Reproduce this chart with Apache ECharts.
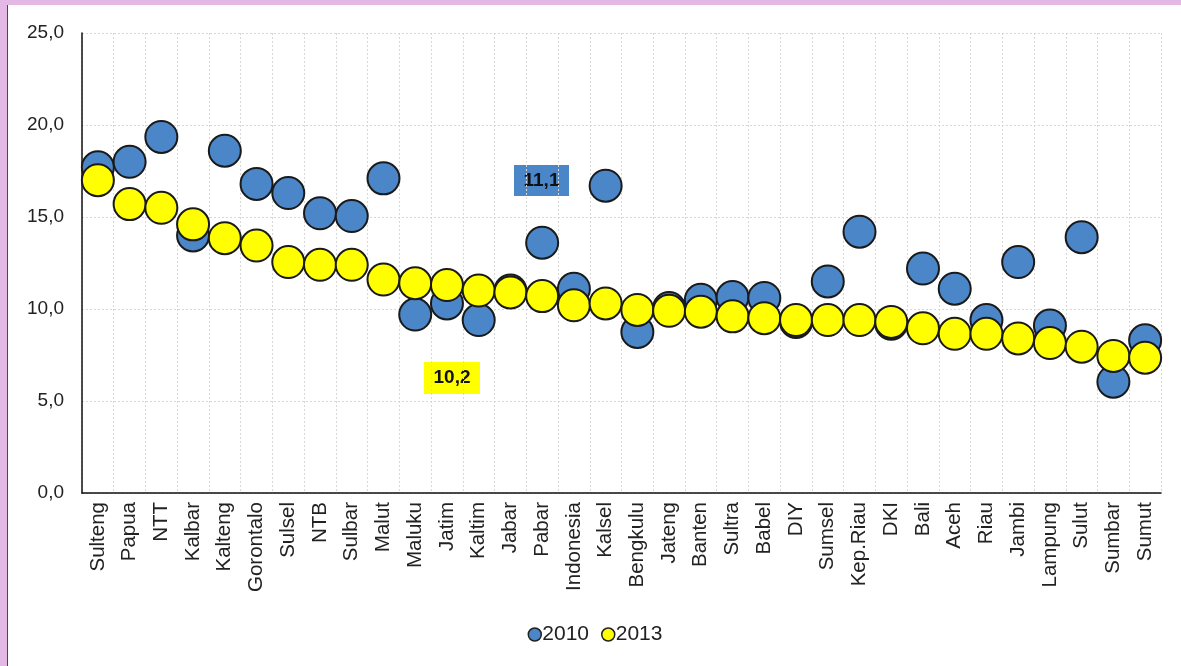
<!DOCTYPE html>
<html>
<head>
<meta charset="utf-8">
<script src="https://cdn.jsdelivr.net/npm/echarts@6/dist/echarts.min.js"></script>
<style>
  html, body { margin: 0; padding: 0; background: #e4b8e4; }
  #chart {
    position: absolute; left: 7px; top: 5px;
    width: 1174px; height: 661px;
    background: #ffffff;
    border-left: 1px solid #5b3d5b;
  }
</style>
</head>
<body>
<div id="chart"></div>
<script>
// Provinces, ordered as in the picture
var provinces = ['Sulteng', 'Papua', 'NTT', 'Kalbar', 'Kalteng', 'Gorontalo', 'Sulsel', 'NTB',
    'Sulbar', 'Malut', 'Maluku', 'Jatim', 'Kaltim', 'Jabar', 'Pabar', 'Indonesia', 'Kalsel',
    'Bengkulu', 'Jateng', 'Banten', 'Sultra', 'Babel', 'DIY', 'Sumsel', 'Kep.Riau', 'DKI',
    'Bali', 'Aceh', 'Riau', 'Jambi', 'Lampung', 'Sulut', 'Sumbar', 'Sumut'];

// Values
var values2010 = [17.7, 18.0, 19.35, 14.0, 18.6, 16.8, 16.3, 15.2,
    15.05, 17.1, 9.7, 10.3, 9.4, 11.0, 13.6, 11.1, 16.7,
    8.75, 10.05, 10.5, 10.65, 10.6, 9.3, 11.5, 14.2, 9.2,
    12.2, 11.1, 9.4, 12.55, 9.1, 13.9, 6.05, 8.3];
var values2013 = [17.0, 15.7, 15.5, 14.6, 13.85, 13.45, 12.55, 12.4,
    12.4, 11.6, 11.4, 11.3, 11.0, 10.9, 10.7, 10.2, 10.3,
    9.95, 9.9, 9.85, 9.6, 9.5, 9.4, 9.4, 9.4, 9.3,
    8.95, 8.65, 8.65, 8.4, 8.15, 7.95, 7.45, 7.35];

var seriesNames = ['2010', '2013'];
var seriesColors = ['#4a86c8', '#ffff00'];
var yTicks = [0, 5, 25];   // min, interval, max
var notes = ['11,1', '10,2'];

var FONT = 'Liberation Sans, Arial, sans-serif';
var chart = echarts.init(document.getElementById('chart'));

function fmt(v) {
    return v.toFixed(1).replace('.', ',');
}

// Small boxed value label, as drawn on the original slide
function noteBox(left, top, w, h, text, fill) {
    return {
        type: 'group', left: left, top: top,
        children: [
            { type: 'rect', shape: { x: 0, y: 0, width: w, height: h }, style: { fill: fill } },
            { type: 'text', x: w / 2, y: h / 2,
              style: { text: text, fill: '#111', fontFamily: FONT, fontSize: 19, fontWeight: 'bold',
                       align: 'center', verticalAlign: 'middle' } }
        ]
    };
}

var option = {
    animation: false,
    textStyle: { fontFamily: FONT },
    grid: { left: 74, right: 21, top: 28, bottom: 173 },
    legend: {
        bottom: 16,
        left: 'center',
        itemWidth: 13,
        itemHeight: 13,
        itemGap: 12,
        data: seriesNames.map(function (n, i) {
            return { name: n, icon: 'circle',
                itemStyle: { color: seriesColors[i], borderColor: '#222', borderWidth: 1.5 } };
        }),
        textStyle: { fontSize: 21, color: '#222', padding: [0, 0, 0, -4] }
    },
    xAxis: {
        type: 'category',
        data: provinces,
        boundaryGap: true,
        axisLine: { lineStyle: { color: '#111', width: 1.5 } },
        axisTick: { show: false },
        axisLabel: { rotate: 90, fontSize: 20.5, color: '#222', margin: 9, interval: 0 },
        splitLine: { show: true, interval: 0, lineStyle: { color: '#d8d8d8', type: [2, 2] } }
    },
    yAxis: {
        type: 'value',
        min: yTicks[0],
        interval: yTicks[1],
        max: yTicks[2],
        axisLine: { show: true, lineStyle: { color: '#111', width: 1.5 } },
        axisTick: { show: false },
        axisLabel: { fontSize: 19, color: '#222', margin: 18, formatter: fmt },
        splitLine: { lineStyle: { color: '#d8d8d8', type: [2, 2] } }
    },
    series: [
        {
            name: seriesNames[0],
            type: 'scatter',
            data: values2010,
            symbolSize: 32,
            itemStyle: { color: seriesColors[0], borderColor: '#1a1a1a', borderWidth: 2, opacity: 1 }
        },
        {
            name: seriesNames[1],
            type: 'scatter',
            data: values2013,
            symbolSize: 32,
            itemStyle: { color: seriesColors[1], borderColor: '#1a1a1a', borderWidth: 2, opacity: 1 }
        }
    ],
    graphic: [
        noteBox(506, 160, 55, 31, notes[0], seriesColors[0]),
        noteBox(416, 357, 56, 32, notes[1], seriesColors[1])
    ]
};
chart.setOption(option);
</script>
</body>
</html>
